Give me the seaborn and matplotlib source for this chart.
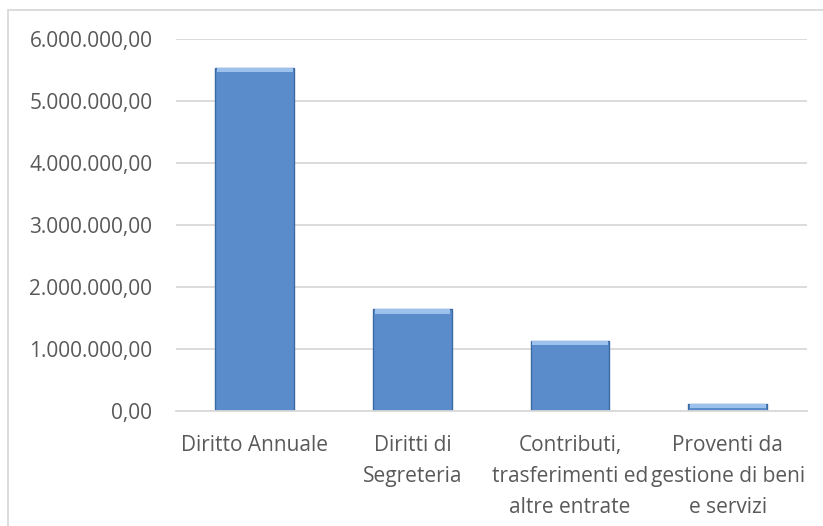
import matplotlib
matplotlib.use('Agg')
import matplotlib.pyplot as plt
import seaborn as sns
from matplotlib.patches import Rectangle
from matplotlib.ticker import FuncFormatter

# data
categories = ['Diritto Annuale',
              'Diritti di\nSegreteria',
              'Contributi,\ntrasferimenti ed\naltre entrate',
              'Proventi da\ngestione di beni\ne servizi']
values = [5530000, 1640000, 1135000, 118000]
y_ticks = [0, 1000000, 2000000, 3000000, 4000000, 5000000, 6000000]


def it_fmt(v, pos=None):
    # italian number format: 6.000.000,00
    s = '{:,.2f}'.format(v)
    return s.replace(',', 'X').replace('.', ',').replace('X', '.')


sns.set_style('white')
plt.rcParams['font.family'] = ['Open Sans', 'DejaVu Sans']

fig = plt.figure(figsize=(8.23, 5.26), dpi=100)
ax = fig.add_axes([176 / 823, 1 - 411 / 526, (806.5 - 176) / 823, (411 - 39) / 526])

sns.barplot(x=categories, y=values, ax=ax, color='#5a8bcb', width=0.5,
            saturation=1, edgecolor='#3b6aa3', linewidth=1.0)

# lighter bevel on top of each bar
for p in ax.patches:
    h = p.get_height()
    band = min(h, 70000)
    ax.add_patch(Rectangle((p.get_x() + 0.01, h - band), p.get_width() - 0.02, band,
                           facecolor='#9cc1ec', edgecolor='none', zorder=3))

ax.set_ylim(0, 6000000)
ax.set_xlim(-0.5, 3.5)
ax.set_yticks(y_ticks)
ax.yaxis.set_major_formatter(FuncFormatter(it_fmt))
ax.grid(axis='y', color='#d9d9d9', linewidth=1.3)
ax.set_axisbelow(True)
for s in ['top', 'right', 'left']:
    ax.spines[s].set_visible(False)
ax.spines['bottom'].set_color('#d9d9d9')
ax.spines['bottom'].set_linewidth(1.3)
ax.tick_params(axis='y', length=0, pad=17, labelsize=15, labelcolor='#595959')
ax.tick_params(axis='x', length=0, pad=17, labelsize=15, labelcolor='#595959')
for t in ax.get_xticklabels():
    t.set_linespacing(1.65)
ax.set_xlabel('')
ax.set_ylabel('')

# chart border
fig.patches.append(Rectangle((8 / 823, -0.1), 1.1, 1.1 - 10 / 526, transform=fig.transFigure,
                             fill=False, edgecolor='#d9d9d9', linewidth=1.3))

fig.savefig('out.png', dpi=100)
